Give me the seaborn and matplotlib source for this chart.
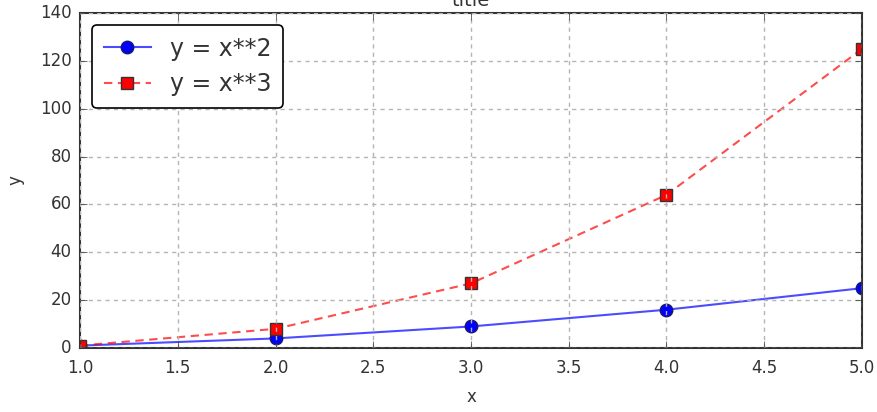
import matplotlib
matplotlib.use("Agg")
import matplotlib.pyplot as plt
import seaborn as sns
import pandas as pd

x_values = [1, 2, 3, 4, 5]
y_square = [1, 4, 9, 16, 25]
y_cube = [1, 8, 27, 64, 125]
labels = ["y = x**2", "y = x**3"]

plt.style.use("classic")
plt.rcParams["font.family"] = ["DejaVu Sans"]

fig = plt.figure(figsize=(8.78, 4.12), dpi=100, facecolor="white")
ax = fig.add_axes([80/878, 1 - 348/412, (862-80)/878, (348-13)/412])
ax.set_facecolor("white")

df_sq = pd.DataFrame({"x": x_values, "y": y_square})
df_cu = pd.DataFrame({"x": x_values, "y": y_cube})

sns.lineplot(data=df_sq, x="x", y="y", ax=ax, color="blue",
             marker="o", markersize=9, linestyle="-", linewidth=1.5)
sns.lineplot(data=df_cu, x="x", y="y", ax=ax, color="red",
             marker="s", markersize=8, linestyle="--", linewidth=1.5)

styles = [("blue", (0, 0, 1, 0.7), "#1a1a66"), ("red", (1, 0, 0, 0.7), "#333333")]
for line, lab, (fc, lc, ec) in zip(ax.lines, labels, styles):
    line.set_color(lc)
    line.set_markerfacecolor(fc)
    line.set_markeredgecolor(ec)
    line.set_markeredgewidth(1)
    line.set_label(lab)
    if lab.endswith("3"):
        line.set_dashes((6, 4))

ax.set_xlim(1, 5)
ax.set_ylim(0, 140)
ax.set_xticks([1.0, 1.5, 2.0, 2.5, 3.0, 3.5, 4.0, 4.5, 5.0])
ax.set_yticks(range(0, 141, 20))
ax.grid(True, color="#b5b5b5", linestyle=(0, (3, 3)), linewidth=1)
ax.tick_params(labelsize=12, colors="#333333", length=5)
ax.tick_params(axis="x", pad=8)
ax.tick_params(axis="y", pad=6)
ax.set_xlabel("x", fontsize=12, color="#333333", labelpad=8)
ax.set_ylabel("y", fontsize=12, color="#333333", labelpad=11)
ax.set_title("title", fontsize=14, color="#333333")
for s in ax.spines.values():
    s.set_linewidth(1.5)
    s.set_color("#333333")

leg = ax.legend(loc="upper left", fontsize=17, fancybox=True, framealpha=1,
                numpoints=1, handlelength=2.0, borderpad=0.5, labelspacing=0.5)
leg.get_frame().set_edgecolor("black")
leg.get_frame().set_linewidth(1.2)
for t in leg.get_texts():
    t.set_color("#333333")

fig.savefig("out.png", dpi=100, facecolor="white")
